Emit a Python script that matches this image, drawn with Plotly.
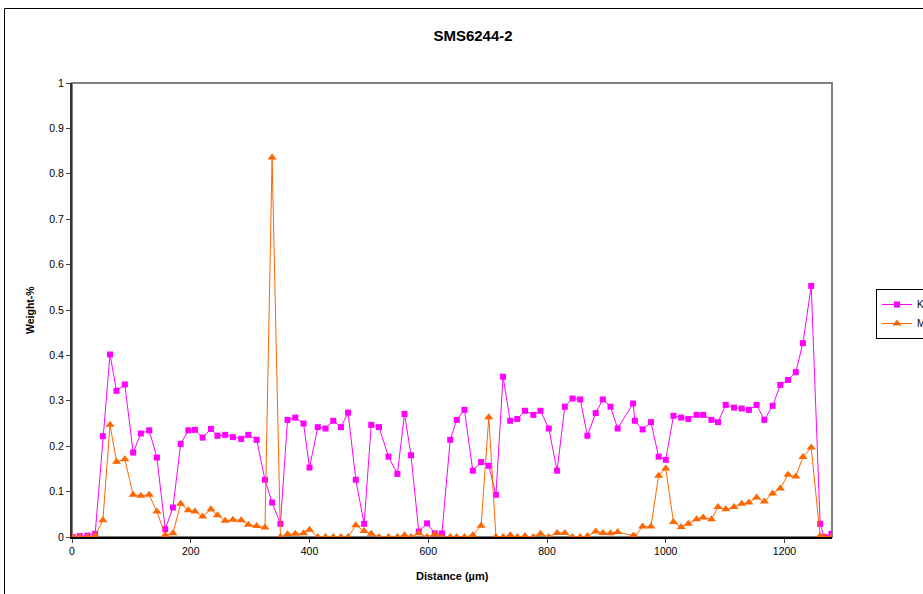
import plotly.graph_objects as go

# distance along the traverse (µm)
distance = [
    1, 13, 26, 39, 52, 64, 75, 89, 103, 116,
    130, 143, 157, 170, 183, 196, 207, 220, 234, 245,
    258, 271, 285, 297, 311, 325, 337, 351, 363, 376,
    390, 400, 414, 427, 440, 453, 465, 478, 492, 504,
    517, 533, 548, 560, 571, 584, 598, 611, 623, 637,
    648, 661, 675, 689, 702, 714, 726, 738, 750, 763,
    777, 789, 803, 817, 830, 843, 856, 868, 882, 894,
    907, 919, 945, 948, 961, 975, 988, 1000, 1013, 1026,
    1038, 1052, 1063, 1077, 1088, 1101, 1115, 1128, 1140, 1153,
    1166, 1180, 1193, 1206, 1219, 1231, 1245, 1260, 1267, 1279,
]

k_wt = [
    0.000, 0.002, 0.003, 0.007, 0.222, 0.402, 0.322, 0.336, 0.186, 0.228,
    0.235, 0.175, 0.017, 0.065, 0.205, 0.235, 0.236, 0.219, 0.238, 0.223,
    0.225, 0.220, 0.216, 0.225, 0.214, 0.126, 0.076, 0.029, 0.258, 0.263,
    0.250, 0.153, 0.242, 0.239, 0.256, 0.242, 0.274, 0.126, 0.029, 0.247,
    0.242, 0.177, 0.139, 0.271, 0.180, 0.012, 0.030, 0.008, 0.008, 0.214,
    0.258, 0.280, 0.146, 0.165, 0.157, 0.093, 0.353, 0.256, 0.260, 0.278,
    0.269, 0.278, 0.239, 0.146, 0.287, 0.305, 0.303, 0.223, 0.273, 0.303,
    0.287, 0.239, 0.294, 0.256, 0.237, 0.253, 0.177, 0.170, 0.267, 0.263,
    0.260, 0.269, 0.269, 0.258, 0.253, 0.291, 0.285, 0.283, 0.280, 0.291,
    0.258, 0.289, 0.335, 0.346, 0.363, 0.427, 0.553, 0.029, 0.000, 0.007,
]

mg_wt = [
    0.000, 0.000, 0.000, 0.003, 0.037, 0.247, 0.166, 0.171, 0.093, 0.091,
    0.093, 0.056, 0.004, 0.008, 0.073, 0.059, 0.056, 0.045, 0.061, 0.048,
    0.036, 0.038, 0.037, 0.027, 0.024, 0.021, 0.836, 0.000, 0.006, 0.007,
    0.008, 0.016, 0.000, 0.000, 0.000, 0.000, 0.000, 0.026, 0.013, 0.007,
    0.000, 0.000, 0.000, 0.004, 0.000, 0.008, 0.000, 0.006, 0.000, 0.000,
    0.000, 0.000, 0.004, 0.025, 0.264, 0.000, 0.000, 0.004, 0.000, 0.002,
    0.000, 0.007, 0.000, 0.009, 0.009, 0.000, 0.000, 0.002, 0.012, 0.009,
    0.008, 0.011, 0.003, 0.001, 0.023, 0.023, 0.135, 0.151, 0.033, 0.022,
    0.029, 0.039, 0.043, 0.039, 0.066, 0.061, 0.066, 0.073, 0.076, 0.087,
    0.078, 0.096, 0.107, 0.137, 0.133, 0.176, 0.197, 0.002, 0.000, 0.000,
]

x_ticks = [0, 200, 400, 600, 800, 1000, 1200]

W, H = 923, 594
L, R, T, B = 72, 832, 83, 537  # plot area in pixels


def px_x(p):
    return (p - L) / (R - L)


def px_y(p):
    return (B - p) / (B - T)


font = "Liberation Sans, Arial, sans-serif"

fig = go.Figure()
fig.add_trace(go.Scatter(
    x=distance, y=k_wt, name="K", mode="lines+markers",
    line=dict(color="#FF00FF", width=1),
    marker=dict(symbol="square", size=6, color="#FF00FF"),
))
fig.add_trace(go.Scatter(
    x=distance, y=mg_wt, name="Mg", mode="lines+markers",
    line=dict(color="#FF6600", width=1),
    marker=dict(symbol="triangle-up", size=8, color="#FF6600"),
))

fig.update_layout(
    width=W, height=H,
    margin=dict(l=L, r=W - R, t=T, b=H - B, autoexpand=False),
    paper_bgcolor="white", plot_bgcolor="white",
    font=dict(family=font, size=10, color="black"),
    title=dict(text="<b>SMS6244-2</b>", x=473 / W, xanchor="center",
               y=1 - 36 / H, yanchor="middle", font=dict(size=15)),
    xaxis=dict(range=[0, 1280], tickvals=x_ticks, ticks="outside", ticklen=4,
               showline=True, linecolor="black", linewidth=1.5, showgrid=False,
               zeroline=False, tickfont=dict(size=10.5)),
    yaxis=dict(range=[0, 1], dtick=0.1, tick0=0, ticks="outside", ticklen=4,
               showline=True, linecolor="#333333", linewidth=2, showgrid=False,
               zeroline=False, tickfont=dict(size=10.5)),
    legend=dict(x=px_x(876), y=px_y(289), xanchor="left", yanchor="top",
                bordercolor="black", borderwidth=1, bgcolor="white",
                font=dict(size=10), tracegroupgap=0),
    showlegend=True,
)

# plot-area border (top and right in grey)
fig.add_shape(type="rect", xref="paper", yref="paper", x0=0, x1=1, y0=0, y1=1,
              line=dict(color="#808080", width=2), layer="below")
# outer chart frame
fig.add_shape(type="rect", xref="paper", yref="paper",
              x0=px_x(4.5), x1=px_x(W + 20), y0=px_y(H + 20), y1=px_y(8.5),
              line=dict(color="black", width=1), layer="below")

fig.add_annotation(text="<b>Weight-%</b>", xref="paper", yref="paper",
                   x=px_x(30), y=0.5, xanchor="center", yanchor="middle",
                   textangle=-90, showarrow=False, font=dict(size=10.5))
fig.add_annotation(text="<b>Distance (µm)</b>", xref="paper", yref="paper",
                   x=0.5, y=px_y(576), xanchor="center", yanchor="middle",
                   showarrow=False, font=dict(size=11))

fig.write_html("out.html", config={"displayModeBar": False},
               post_script="document.body.style.margin='0';")
